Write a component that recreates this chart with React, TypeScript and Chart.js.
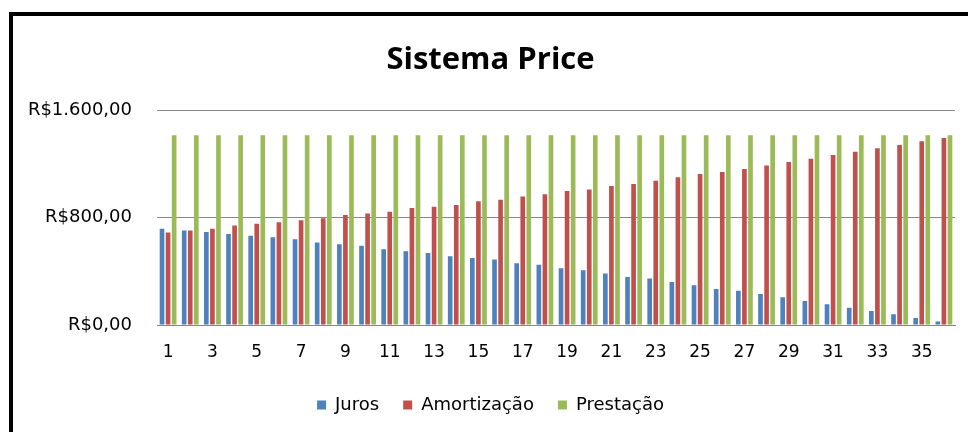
import React, { useEffect, useRef } from "react";
import { Chart, registerables } from "chart.js";

Chart.register(...registerables);

const categories = [
  "1", "2", "3", "4", "5", "6", "7", "8", "9", "10", "11", "12",
  "13", "14", "15", "16", "17", "18", "19", "20", "21", "22", "23", "24",
  "25", "26", "27", "28", "29", "30", "31", "32", "33", "34", "35", "36",
];

const juros = [
  717, 704, 692, 677, 664, 654, 639, 615, 602, 590, 565, 550,
  537, 513, 500, 488, 460, 448, 423, 408, 383, 358, 346, 321,
  296, 269, 256, 231, 207, 179, 154, 129, 104, 80, 52, 27,
];

const amortizacao = [
  689, 704, 717, 741, 754, 766, 781, 796, 819, 831, 843, 871,
  881, 893, 921, 933, 958, 973, 998, 1010, 1035, 1050, 1075, 1100,
  1125, 1140, 1162, 1189, 1214, 1239, 1266, 1291, 1316, 1341, 1368, 1393,
];

const prestacao = [
  1414, 1414, 1414, 1414, 1414, 1414, 1414, 1414, 1414, 1414, 1414, 1414,
  1414, 1414, 1414, 1414, 1414, 1414, 1414, 1414, 1414, 1414, 1414, 1414,
  1414, 1414, 1414, 1414, 1414, 1414, 1414, 1414, 1414, 1414, 1414, 1414,
];

const yTickValues = [0, 800, 1600];
const yTickLabels = ["R$0,00", "R$800,00", "R$1.600,00"];

const seriesNames = ["Juros", "Amortização", "Prestação"];
const seriesColors = ["#4F81BD", "#C0504D", "#9BBB59"];

export default function App() {
  const canvasRef = useRef<HTMLCanvasElement | null>(null);

  useEffect(() => {
    const canvas = canvasRef.current;
    if (!canvas) return;
    const tickFont = { family: "'DejaVu Sans', sans-serif", size: 17 };
    const chart = new Chart(canvas, {
      type: "bar",
      data: {
        labels: categories,
        datasets: [juros, amortizacao, prestacao].map((d, i) => ({
          label: seriesNames[i],
          data: d,
          backgroundColor: seriesColors[i],
          borderWidth: 0,
          categoryPercentage: 0.82,
          barPercentage: 0.77,
        })),
      },
      options: {
        responsive: false,
        animation: false,
        maintainAspectRatio: false,
        layout: { padding: { left: 26, right: 13, top: 0, bottom: 8 } },
        plugins: {
          tooltip: { enabled: false },
          title: {
            display: true,
            text: "Sistema Price",
            color: "#000000",
            font: { family: "'Open Sans', sans-serif", size: 31, weight: "bold" },
            padding: { top: 42, bottom: 31 },
          },
          legend: {
            display: true,
            position: "bottom",
            labels: {
              color: "#000000",
              font: { family: "'DejaVu Sans', sans-serif", size: 18 },
              boxWidth: 9,
              boxHeight: 9,
              padding: 24,
            },
          },
        },
        scales: {
          x: {
            grid: { display: false, drawTicks: false },
            border: { display: true, color: "#868686", width: 1 },
            ticks: {
              color: "#000000",
              font: tickFont,
              autoSkip: false,
              maxRotation: 0,
              padding: 17,
              callback: (_v: any, i: number) => (i % 2 === 0 ? categories[i] : ""),
            },
            afterFit: (scale: any) => {
              scale.height = 47;
            },
          },
          y: {
            min: 0,
            max: 1600,
            afterBuildTicks: (scale: any) => {
              scale.ticks = yTickValues.map((v) => ({ value: v }));
            },
            grid: { color: "#868686", lineWidth: 1, drawTicks: false },
            border: { display: false },
            ticks: {
              color: "#000000",
              font: { family: "'DejaVu Sans', sans-serif", size: 18 },
              padding: 25,
              callback: (v: any) => {
                const idx = yTickValues.indexOf(Number(v));
                return idx >= 0 ? yTickLabels[idx] : "";
              },
            },
            afterFit: (scale: any) => {
              scale.width = 131;
            },
          },
        },
      },
    });
    return () => chart.destroy();
  }, []);

  return (
    <div
      style={{
        position: "absolute",
        left: 0,
        top: 0,
        width: 968,
        height: 432,
        background: "#ffffff",
        overflow: "hidden",
      }}
    >
      <div
        style={{
          position: "absolute",
          left: 9,
          top: 12,
          width: 968,
          height: 432,
          borderTop: "4px solid #000000",
          borderLeft: "4px solid #000000",
          boxSizing: "border-box",
        }}
      />
      <canvas
        ref={canvasRef}
        width={968}
        height={432}
        style={{ position: "absolute", left: 0, top: 0, width: 968, height: 432 }}
      />
    </div>
  );
}
